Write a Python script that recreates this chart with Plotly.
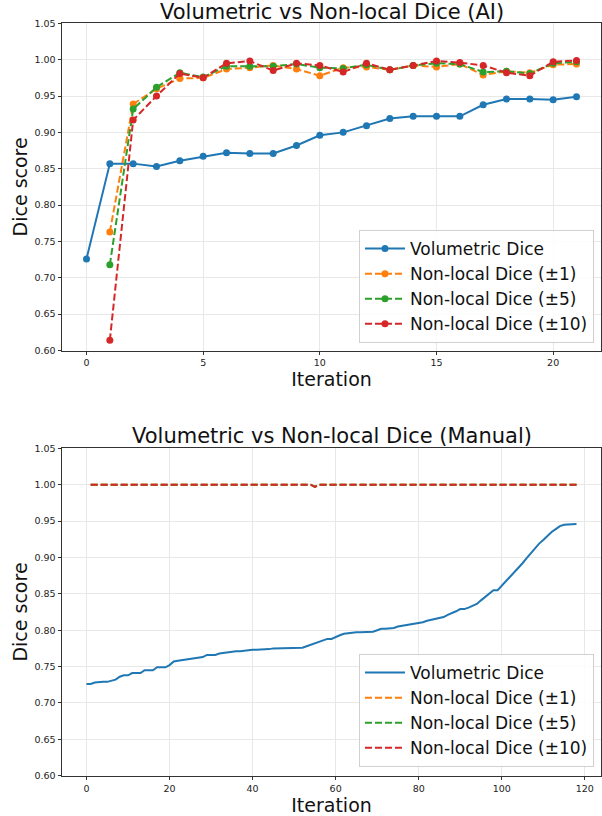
import plotly.graph_objects as go

# ---------------- Data: top chart (AI) ----------------
ai_iter = list(range(0, 22))
ai_vol = [0.726, 0.857, 0.857, 0.853, 0.861, 0.867, 0.872, 0.871, 0.871, 0.882, 0.896,
          0.900, 0.909, 0.919, 0.922, 0.922, 0.922, 0.938, 0.946, 0.946, 0.945, 0.949]
ai_nl_iter = list(range(1, 22))
ai_nl1 = [0.763, 0.939, 0.960, 0.974, 0.975, 0.987, 0.989, 0.992, 0.987, 0.978, 0.989,
          0.990, 0.986, 0.992, 0.990, 0.994, 0.979, 0.984, 0.982, 0.993, 0.994]
ai_nl5 = [0.718, 0.932, 0.962, 0.982, 0.976, 0.991, 0.991, 0.991, 0.994, 0.989, 0.988,
          0.993, 0.986, 0.992, 0.995, 0.994, 0.983, 0.984, 0.981, 0.995, 0.997]
ai_nl10 = [0.614, 0.917, 0.950, 0.981, 0.975, 0.995, 0.998, 0.985, 0.995, 0.992, 0.983,
           0.995, 0.986, 0.992, 0.998, 0.996, 0.992, 0.982, 0.978, 0.997, 0.999]

# ---------------- Data: bottom chart (Manual) ----------------
man_iter = list(range(0, 119))
man_vol = [0.726, 0.726, 0.728, 0.729, 0.729, 0.729, 0.731, 0.732, 0.736, 0.738,
           0.738, 0.741, 0.741, 0.741, 0.745, 0.745, 0.745, 0.749, 0.749, 0.749,
           0.752, 0.757, 0.758, 0.759, 0.759, 0.761, 0.762, 0.762, 0.763, 0.766,
           0.766, 0.766, 0.768, 0.769, 0.770, 0.771, 0.771, 0.771, 0.772, 0.773,
           0.773, 0.773, 0.773, 0.773, 0.774, 0.775, 0.775, 0.775, 0.775, 0.776,
           0.776, 0.776, 0.776, 0.778, 0.780, 0.782, 0.785, 0.787, 0.788, 0.788,
           0.791, 0.793, 0.795, 0.796, 0.796, 0.797, 0.797, 0.797, 0.798, 0.798,
           0.800, 0.802, 0.802, 0.802, 0.803, 0.805, 0.806, 0.807, 0.808, 0.809,
           0.809, 0.811, 0.813, 0.814, 0.815, 0.816, 0.818, 0.821, 0.823, 0.826,
           0.829, 0.829, 0.831, 0.833, 0.836, 0.841, 0.846, 0.850, 0.855, 0.855,
           0.861, 0.867, 0.873, 0.879, 0.886, 0.892, 0.899, 0.906, 0.912, 0.919,
           0.924, 0.930, 0.935, 0.939, 0.943, 0.945, 0.945, 0.946, 0.946]
man_nl_iter = list(range(1, 119))
man_nl = [0.997 if i == 55 else 1.0 for i in man_nl_iter]

y_ticks = [0.60, 0.65, 0.70, 0.75, 0.80, 0.85, 0.90, 0.95, 1.00, 1.05]
ai_x_ticks = [0, 5, 10, 15, 20]
man_x_ticks = [0, 20, 40, 60, 80, 100, 120]

names = ["Volumetric Dice", "Non-local Dice (±1)", "Non-local Dice (±5)", "Non-local Dice (±10)"]
colors = ["#1f77b4", "#ff7f0e", "#2ca02c", "#d62728"]

FONT = "DejaVu Sans"
DASH = "7px,3px"

fig = go.Figure()

# top chart
fig.add_trace(go.Scatter(x=ai_iter, y=ai_vol, mode="lines+markers", name=names[0],
                         line=dict(color=colors[0], width=2), marker=dict(size=7, color=colors[0]),
                         xaxis="x", yaxis="y", legend="legend"))
for nm, col, vals in zip(names[1:], colors[1:], [ai_nl1, ai_nl5, ai_nl10]):
    fig.add_trace(go.Scatter(x=ai_nl_iter, y=vals, mode="lines+markers", name=nm,
                             line=dict(color=col, width=2, dash=DASH), marker=dict(size=7, color=col),
                             xaxis="x", yaxis="y", legend="legend"))

# bottom chart
fig.add_trace(go.Scatter(x=man_iter, y=man_vol, mode="lines", name=names[0],
                         line=dict(color=colors[0], width=2),
                         xaxis="x2", yaxis="y2", legend="legend2"))
for nm, col in zip(names[1:], colors[1:]):
    fig.add_trace(go.Scatter(x=man_nl_iter, y=man_nl, mode="lines", name=nm,
                             line=dict(color=col, width=2, dash=DASH),
                             xaxis="x2", yaxis="y2", legend="legend2"))

H = 816.0
def py(px):
    return 1 - px / H

axis_common = dict(showline=True, linecolor="#333333", linewidth=1, mirror=True, automargin=False,
                   showgrid=True, gridcolor="#e8e8e8", gridwidth=1, zeroline=False,
                   ticks="outside", ticklen=3.5, tickcolor="#333333", tickwidth=1,
                   tickfont=dict(family=FONT, size=9.5, color="#222222"))

title_font = dict(family=FONT, size=19, color="#111111")

legend_common = dict(font=dict(family=FONT, size=17, color="#111111"),
                     bgcolor="rgba(255,255,255,0.85)", bordercolor="#d0d0d0", borderwidth=1,
                     xanchor="right", yanchor="bottom", x=0.987, tracegroupgap=0,
                     itemwidth=40)

fig.update_layout(
    width=602, height=816,
    margin=dict(l=62, r=1, t=0, b=0, autoexpand=False),
    paper_bgcolor="white", plot_bgcolor="white",
    font=dict(family=FONT),
    showlegend=True,
    xaxis=dict(domain=[0, 1], range=[-1.05, 22.05], tickvals=ai_x_ticks, anchor="y",
               title=dict(text="Iteration", font=title_font, standoff=4),
               **axis_common),
    yaxis=dict(domain=[py(350.5), py(23.3)], range=[0.6, 1.05], tickvals=y_ticks, tickformat=".2f",
               anchor="x",
               title=dict(text="Dice score", font=title_font, standoff=1),
               **axis_common),
    xaxis2=dict(domain=[0, 1], range=[-5.9, 123.9], tickvals=man_x_ticks, anchor="y2",
                title=dict(text="Iteration", font=title_font, standoff=4),
                **axis_common),
    yaxis2=dict(domain=[py(775.7), py(448.3)], range=[0.6, 1.05], tickvals=y_ticks, tickformat=".2f",
                anchor="x2",
                title=dict(text="Dice score", font=title_font, standoff=1),
                **axis_common),
    legend=dict(y=py(343), **legend_common),
    legend2=dict(y=py(767), **legend_common),
    annotations=[
        dict(text="Volumetric vs Non-local Dice (AI)", xref="paper", yref="paper",
             x=0.5, y=py(12), xanchor="center", yanchor="middle", showarrow=False,
             font=dict(family=FONT, size=21, color="#111111")),
        dict(text="Volumetric vs Non-local Dice (Manual)", xref="paper", yref="paper",
             x=0.5, y=py(436), xanchor="center", yanchor="middle", showarrow=False,
             font=dict(family=FONT, size=21, color="#111111")),
    ],
)

fig.write_html("out.html")
